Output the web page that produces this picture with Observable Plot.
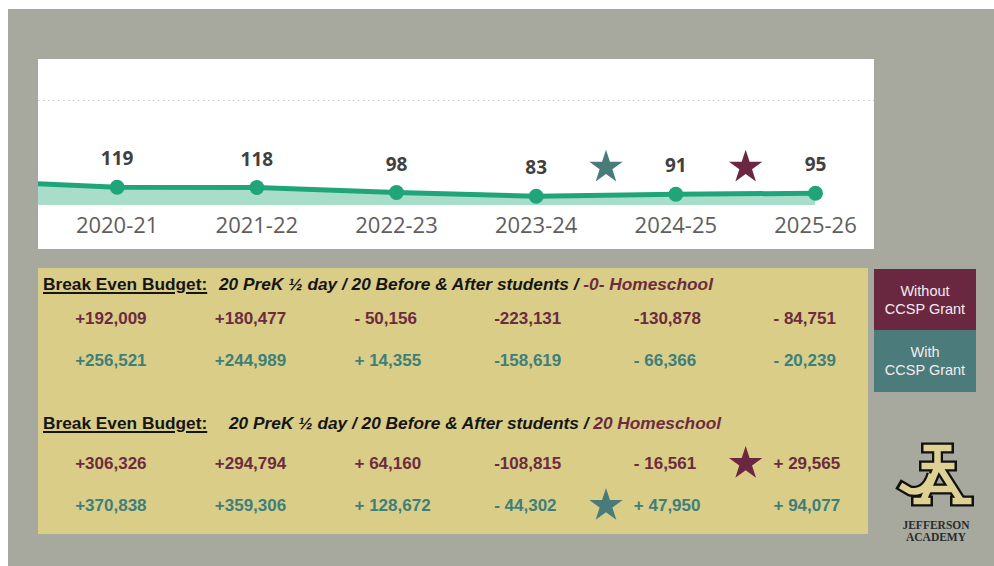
<!DOCTYPE html>
<html><head><meta charset="utf-8">
<script src="https://cdn.jsdelivr.net/npm/d3@7"></script>
<script src="https://cdn.jsdelivr.net/npm/@observablehq/plot@0.6"></script>
<style>
html,body{margin:0;padding:0;background:#fff;}
#root{position:relative;width:994px;height:566px;overflow:hidden;}
#bg{position:absolute;left:8px;top:9px;right:0;bottom:0;background:#a7a99f;}
#chart{position:absolute;left:38px;top:59px;width:836px;height:190px;background:#fff;overflow:hidden;}
#table{position:absolute;left:38px;top:268px;width:830px;height:266px;background:#d9cd88;overflow:hidden;}
.sec{position:absolute;left:0;width:830px;}
.hdr{position:absolute;font-family:"Liberation Sans",Arial,sans-serif;font-size:17.3px;font-weight:bold;color:#151515;white-space:pre;line-height:20px;}
.u{text-decoration:underline;text-decoration-thickness:1.5px;text-underline-offset:2px;}
.it{font-style:italic;}
.mar{color:#6d2b3f;}
.leg{position:absolute;left:874px;width:102px;color:#f3ecf0;font-family:"Liberation Sans",Arial,sans-serif;font-size:14.5px;line-height:18px;text-align:center;display:flex;align-items:center;justify-content:center;}
#logo{position:absolute;left:880px;top:430px;width:114px;height:120px;}
svg text{white-space:pre;}
</style></head>
<body>
<div id="root">
  <div id="bg"></div>
  <div id="chart"></div>
  <div id="table">
    <div class="hdr u" style="left:5px;top:6px;">Break Even Budget:</div>
    <div class="hdr it" style="left:181px;top:6px;">20 PreK ½ day / 20 Before &amp; After students / <span class="mar">-0- Homeschool</span></div>
    <div class="hdr u" style="left:5px;top:144.5px;">Break Even Budget:</div>
    <div class="hdr it" style="left:191px;top:144.5px;">20 PreK ½ day / 20 Before &amp; After students / <span class="mar">20 Homeschool</span></div>
    <div class="sec" id="sec1" style="top:24.5px;height:90px;"></div>
    <div class="sec" id="sec2" style="top:170px;height:90px;"></div>
  </div>
  <div class="leg" style="top:269px;height:61px;background:#6a2840;">Without<br>CCSP Grant</div>
  <div class="leg" style="top:330px;height:62px;background:#4c7b7b;">With<br>CCSP Grant</div>
  <svg id="logo" width="114" height="120" viewBox="0 0 114 120">
    <g fill="none" stroke-linecap="butt" stroke-linejoin="miter">
      <g stroke="#111" stroke-width="11">
        <path d="M41,18 H74"/><path d="M57.5,18 V38"/><path d="M39,36 H77"/>
        <path d="M57,38 L43,71"/><path d="M60,38 L81,71"/><path d="M48,59 H74"/>
        <path d="M52,44 Q46,64 30,61 L18,54"/>
        <path d="M31,71 H53"/><path d="M70,71 H94"/>
      </g>
      <g stroke="#ddd193" stroke-width="6.5">
        <path d="M43.5,18 H71.5"/><path d="M57.5,18 V38"/><path d="M41.5,36 H74.5"/>
        <path d="M57,38 L43,71"/><path d="M60,38 L81,71"/><path d="M48,59 H74"/>
        <path d="M52,44 Q46,64 30,61 L20.5,55.5"/>
        <path d="M33.5,71 H50.5"/><path d="M72.5,71 H91.5"/>
      </g>
    </g>
    <text x="56" y="99" text-anchor="middle" font-family="Liberation Serif,serif" font-weight="bold" font-size="11.5" fill="#2b2b2b">JEFFERSON</text>
    <text x="56" y="111" text-anchor="middle" font-family="Liberation Serif,serif" font-weight="bold" font-size="11.5" fill="#2b2b2b">ACADEMY</text>
  </svg>
</div>
<script>
// ---- data ----
const years = ["2019-20","2020-21","2021-22","2022-23","2023-24","2024-25","2025-26"];
const enrollment = [143, 119, 118, 98, 83, 91, 95];

// Break-even budget: 20 PreK ½ day / 20 Before & After / -0- Homeschool
const noHsWithoutGrant = [192009, 180477, -50156, -223131, -130878, -84751];
const noHsWithGrant    = [256521, 244989, 14355, -158619, -66366, -20239];
// Break-even budget: 20 PreK ½ day / 20 Before & After / 20 Homeschool
const hsWithoutGrant = [306326, 294794, 64160, -108815, -16561, 29565];
const hsWithGrant    = [370838, 359306, 128672, -44302, 47950, 94077];

const grants = ["Without", "With"];
const textColors = {Without: "#6d2b3f", With: "#3e7f7a"};
const starColors = {Without: "#6b2742", With: "#4a7b7b"};

// ---- helpers ----
const xScale = {type: "linear", domain: [0, years.length - 1], range: [-61, 777]};
const series = years.map((year, i) => ({i, year, v: enrollment[i]}));
const shown = series.slice(1);

function breakEven(vals) {
  for (let k = 0; k < vals.length - 1; k++) if (vals[k] < 0 && vals[k + 1] >= 0) return k + 1.5;
  return null;
}
const stars = [
  {x: breakEven(hsWithGrant), grant: "With"},
  {x: breakEven(hsWithoutGrant), grant: "Without"}
];
const fmtNum = d3.format(",");
function fmt(v, k) {
  const sign = v < 0 ? "-" : "+";
  const pad = (Math.abs(v) < 100000 || k === 2) ? " " : "";
  return sign + pad + fmtNum(Math.abs(v));
}

// ---- enrollment chart ----
const chart = Plot.plot({
  width: 836, height: 190,
  marginLeft: 0, marginRight: 0, marginTop: 41, marginBottom: 44,
  x: {...xScale, axis: null},
  y: {domain: [46, 466], axis: null},
  color: {type: "identity"},
  style: {background: "#fff", fontFamily: "'Open Sans', sans-serif", overflow: "hidden"},
  marks: [
    Plot.ruleY([466], {stroke: "#c9c9c9", strokeDasharray: "1.5,3.5"}),
    Plot.areaY(series, {x: "i", y: "v", fill: "#a8ddca", clip: true}),
    Plot.line(series, {x: "i", y: "v", stroke: "#20a57a", strokeWidth: 5, clip: true}),
    Plot.dot(shown, {x: "i", y: "v", r: 7.5, fill: "#20a57a"}),
    Plot.text(shown, {x: "i", y: "v", text: d => String(d.v), dy: -28, fontSize: 19, fontWeight: "bold", fill: "#404040"}),
    Plot.text(shown, {x: "i", text: "year", frameAnchor: "bottom", lineAnchor: "top", dy: 12, fontSize: 22, fill: "#605e5c"}),
    Plot.dot(stars, {x: "x", y: () => 199, symbol: "star", r: 10.5, fill: d => starColors[d.grant], stroke: "none"})
  ]
});
document.getElementById("chart").appendChild(chart);

// ---- budget table sections ----
function section(rowsDef, sectionStars) {
  const data = rowsDef.flatMap(r => r.values.map((v, k) => ({x: k + 1, grant: r.grant, label: fmt(v, k)})));
  return Plot.plot({
    width: 830, height: 90, margin: 0,
    x: {...xScale, axis: null},
    y: {type: "point", domain: grants, range: [25, 67.5], padding: 0, axis: null},
    color: {type: "identity"},
    style: {background: "transparent", fontFamily: "'Liberation Sans', Arial, sans-serif", overflow: "visible"},
    marks: [
      Plot.text(data, {x: "x", y: "grant", text: "label", dx: -42, textAnchor: "start", fontSize: 17, fontWeight: "bold", fill: d => textColors[d.grant]}),
      Plot.dot(sectionStars, {x: "x", y: "grant", symbol: "star", r: 10.5, fill: d => starColors[d.grant], stroke: "none"})
    ]
  });
}
document.getElementById("sec1").appendChild(section([
  {grant: "Without", values: noHsWithoutGrant},
  {grant: "With", values: noHsWithGrant}
], []));
document.getElementById("sec2").appendChild(section([
  {grant: "Without", values: hsWithoutGrant},
  {grant: "With", values: hsWithGrant}
], stars));
</script>
</body></html>
